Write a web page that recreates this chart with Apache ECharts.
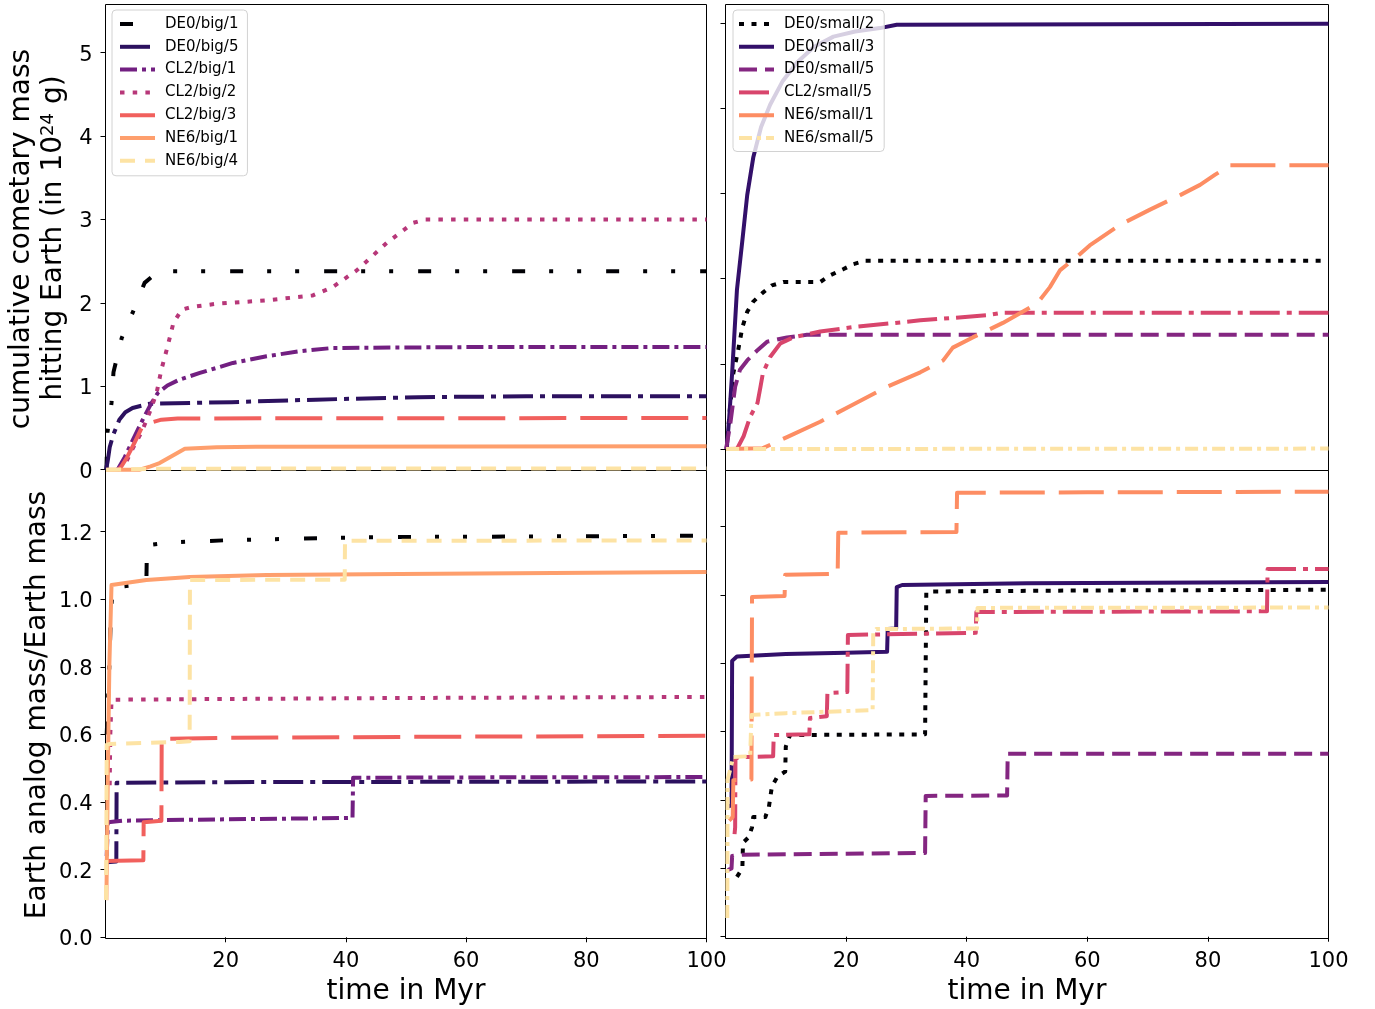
<!DOCTYPE html>
<html>
<head>
<meta charset="utf-8">
<script src="https://cdn.jsdelivr.net/npm/echarts@6/dist/echarts.min.js"></script>
<style>
  html, body { margin: 0; padding: 0; background: #fff; }
  #chart { width: 1375px; height: 1009px; }
</style>
</head>
<body>
<div id="chart"></div>
<script>
// ---- tick values ----
const xTicks = [20, 40, 60, 80, 100];
const massTicks = [0, 1, 2, 3, 4, 5];
const analogTicks = [0, 0.2, 0.4, 0.6, 0.8, 1.0, 1.2];

// ---- series names per panel ----
const bigRuns = ['DE0/big/1', 'DE0/big/5', 'CL2/big/1', 'CL2/big/2', 'CL2/big/3', 'NE6/big/1', 'NE6/big/4'];
const smallRuns = ['DE0/small/2', 'DE0/small/3', 'DE0/small/5', 'CL2/small/5', 'NE6/small/1', 'NE6/small/5'];

// ---- cumulative cometary mass hitting Earth (10^24 g), big runs: [Myr, value] ----
const cometBig_DE0_1 = [[0.15,0],[0.33,0.45],[1.0,0.8],[1.33,1.17],[2.7,1.58],[4.5,1.88],[6.5,2.24],[8.5,2.36],[11,2.38],[50,2.38],[100,2.38]];
const cometBig_DE0_5 = [[0.1,0],[0.4,0.12],[0.7,0.27],[1.3,0.42],[2.3,0.6],[3.3,0.69],[4.5,0.74],[7.3,0.79],[21,0.81],[35,0.84],[52,0.87],[70,0.88],[100,0.88]];
const cometBig_CL2_1 = [[2,0],[3.2,0.15],[4.7,0.38],[6.2,0.6],[7.5,0.78],[8.7,0.92],[10.3,1.01],[12.3,1.08],[15.7,1.16],[21.2,1.28],[26.8,1.36],[32.3,1.42],[37.8,1.46],[60,1.47],[100,1.47]];
const cometBig_CL2_2 = [[2,0],[3.5,0.1],[4.5,0.25],[6,0.45],[7.3,0.68],[8.5,0.92],[9.3,1.2],[10.3,1.47],[11.3,1.76],[12.7,1.92],[14.3,1.95],[18.5,1.99],[26.8,2.03],[34.5,2.09],[37.8,2.19],[41.8,2.39],[46.8,2.72],[51.2,2.96],[53.2,3.0],[100,3.0]];
const cometBig_CL2_3 = [[2.3,0],[3.6,0.15],[4.8,0.32],[6,0.5],[7.3,0.56],[9.3,0.6],[12,0.615],[100,0.62]];
const cometBig_NE6_1 = [[0.1,0],[5.7,0],[7.5,0.04],[9,0.08],[10.7,0.15],[13.2,0.25],[18.5,0.27],[25,0.276],[100,0.28]];
const cometBig_NE6_4 = [[0.1,0],[8,0.01],[30,0.015],[100,0.015]];

// ---- cumulative cometary mass, small runs ----
const cometSmall_DE0_2 = [[0.2,0],[0.7,0.45],[1.3,0.89],[2.1,1.16],[2.8,1.43],[3.6,1.61],[4.6,1.73],[6.1,1.83],[7.7,1.92],[9.6,1.96],[15.7,1.96],[17.4,2.04],[19.5,2.11],[21.2,2.17],[23.2,2.21],[100,2.21]];
const cometSmall_DE0_3 = [[0.2,0],[0.6,0.35],[1.1,0.89],[1.9,1.87],[2.8,2.45],[3.6,2.98],[4.6,3.42],[5.9,3.78],[7.4,4.04],[9.5,4.32],[11.9,4.54],[14.7,4.72],[17.9,4.84],[21.5,4.9],[25.6,4.94],[28.4,4.98],[100,4.99]];
const cometSmall_DE0_5 = [[0.1,0],[0.8,0.3],[1.6,0.73],[2.4,0.93],[3.6,1.04],[5.3,1.16],[6.9,1.26],[10.2,1.31],[13.5,1.34],[100,1.34]];
const cometSmall_CL2_5 = [[1.9,0],[3,0.15],[4.1,0.38],[5.3,0.54],[5.8,0.73],[6.2,0.89],[7.4,1.08],[9.1,1.24],[11.2,1.31],[15.7,1.38],[21.1,1.43],[32.3,1.51],[43.4,1.57],[46,1.6],[100,1.6]];
const cometSmall_NE6_1 = [[0.1,0],[6.2,0.01],[10.2,0.14],[15.7,0.32],[21.1,0.52],[26.8,0.73],[32.3,0.9],[36.1,1.04],[37.7,1.19],[41,1.31],[46,1.48],[51.7,1.71],[53.8,1.9],[55.5,2.1],[58,2.24],[60.4,2.39],[65.4,2.63],[70.4,2.81],[75.4,2.98],[78.7,3.1],[81.2,3.22],[83.7,3.33],[100,3.33]];
const cometSmall_NE6_5 = [[0.1,0],[100,0.005]];

// ---- Earth analog mass / Earth mass, big runs ----
const analogBig_DE0_1 = [[0.2,0.6],[0.4,0.69],[0.6,0.78],[0.9,0.96],[1.2,1.035],[6.4,1.045],[6.8,1.05],[6.9,1.16],[10.6,1.168],[20.6,1.175],[36,1.181],[46,1.184],[100,1.188]];
const analogBig_DE0_5 = [[0.2,0.222],[1.8,0.224],[1.85,0.457],[20,0.459],[60,0.46],[100,0.461]];
const analogBig_CL2_1 = [[0.2,0.24],[0.4,0.34],[3,0.345],[20,0.349],[41.1,0.353],[41.2,0.472],[60,0.473],[100,0.474]];
const analogBig_CL2_2 = [[0.7,0.45],[0.8,0.6],[1,0.7],[1.5,0.703],[20,0.705],[50,0.708],[100,0.711]];
const analogBig_CL2_3 = [[0.15,0.226],[6.3,0.228],[6.35,0.34],[9.3,0.345],[9.35,0.587],[20,0.59],[50,0.593],[100,0.596]];
const analogBig_NE6_1 = [[0.15,0.11],[0.4,0.5],[0.65,0.81],[1,1.042],[6.8,1.057],[14,1.066],[26.8,1.072],[49,1.075],[100,1.081]];
const analogBig_NE6_4 = [[0.1,0.11],[0.2,0.57],[0.7,0.572],[12.3,0.578],[14,0.58],[14.05,1.057],[39.8,1.058],[39.85,1.173],[100,1.174]];

// ---- Earth analog mass / Earth mass, small runs ----
const analogSmall_DE0_2 = [[1.9,0.175],[2.8,0.2],[2.9,0.275],[3.8,0.29],[4.4,0.32],[4.6,0.35],[6.6,0.35],[7.2,0.38],[7.7,0.44],[8.6,0.468],[9.9,0.483],[10,0.556],[10.7,0.59],[33.1,0.592],[33.3,1.008],[34,1.01],[60,1.013],[100,1.015]];
const analogSmall_DE0_3 = [[0.4,0.38],[1,0.385],[1.1,0.807],[1.9,0.82],[10,0.827],[20,0.831],[26.8,0.834],[26.9,0.9],[28.3,0.902],[28.4,1.023],[29.3,1.029],[50,1.034],[100,1.038]];
const analogSmall_DE0_5 = [[0.4,0.195],[1,0.2],[1.1,0.236],[2.8,0.24],[33.1,0.245],[33.2,0.412],[46.7,0.413],[46.8,0.535],[100,0.535]];
const analogSmall_CL2_5 = [[1.5,0.3],[1.6,0.32],[1.65,0.52],[2.1,0.525],[7.9,0.528],[8,0.59],[13.9,0.592],[14,0.64],[16.8,0.645],[16.9,0.713],[20.2,0.716],[20.3,0.883],[41.5,0.889],[41.6,0.95],[89.8,0.952],[89.9,1.076],[100,1.076]];
const analogSmall_NE6_1 = [[0.6,0.34],[1.2,0.35],[1.3,0.458],[4.3,0.46],[4.4,0.994],[9.8,0.997],[9.9,1.059],[18.6,1.062],[18.7,1.182],[38.3,1.184],[38.4,1.299],[60,1.3],[100,1.302]];
const analogSmall_NE6_5 = [[0.3,0.055],[0.35,0.459],[1.3,0.526],[4.1,0.528],[4.3,0.649],[10,0.654],[24.4,0.663],[24.5,0.889],[25,0.9],[41.7,0.902],[41.8,0.962],[100,0.963]];

const cometBig = [cometBig_DE0_1, cometBig_DE0_5, cometBig_CL2_1, cometBig_CL2_2, cometBig_CL2_3, cometBig_NE6_1, cometBig_NE6_4];
const cometSmall = [cometSmall_DE0_2, cometSmall_DE0_3, cometSmall_DE0_5, cometSmall_CL2_5, cometSmall_NE6_1, cometSmall_NE6_5];
const analogBig = [analogBig_DE0_1, analogBig_DE0_5, analogBig_CL2_1, analogBig_CL2_2, analogBig_CL2_3, analogBig_NE6_1, analogBig_NE6_4];
const analogSmall = [analogSmall_DE0_2, analogSmall_DE0_3, analogSmall_DE0_5, analogSmall_CL2_5, analogSmall_NE6_1, analogSmall_NE6_5];

// ---- line styles (colour + dash pattern in px) ----
const lineLook = {
  'DE0/big/1':   { color: '#000004', dash: [13, 24, 4, 24, 4, 25] },
  'DE0/big/5':   { color: '#2c115f', dash: [30, 7, 5, 7] },
  'CL2/big/1':   { color: '#721f81', dash: [17, 5, 4, 5] },
  'CL2/big/2':   { color: '#b73779', dash: [4.5, 8.2] },
  'CL2/big/3':   { color: '#f1605d', dash: [47, 14] },
  'NE6/big/1':   { color: '#fe9f6d', dash: 'solid' },
  'NE6/big/4':   { color: '#fde3a4', dash: [15, 10] },
  'DE0/small/2': { color: '#000004', dash: [5, 7.5] },
  'DE0/small/3': { color: '#33106a', dash: 'solid' },
  'DE0/small/5': { color: '#842681', dash: [18, 8] },
  'CL2/small/5': { color: '#d8456c', dash: [30, 7, 5, 7] },
  'NE6/small/1': { color: '#fd8d63', dash: [45, 14] },
  'NE6/small/5': { color: '#fde3a4', dash: [13, 5, 4, 5] }
};

const FONT = '"DejaVu Sans", sans-serif';

const grids = [
  { left: 105.5, top: 4.5,   width: 601, height: 466 },   // comet, big
  { left: 725.5, top: 4.5,   width: 603, height: 466 },   // comet, small
  { left: 105.5, top: 470.5, width: 601, height: 468 },   // analog, big
  { left: 725.5, top: 470.5, width: 603, height: 468 }    // analog, small
].map(g => Object.assign(g, { show: true, borderColor: '#000', borderWidth: 1, backgroundColor: 'transparent', containLabel: false }));

function xAxisFor(gi, labelled) {
  return {
    type: 'value', gridIndex: gi, min: 0, max: 100,
    axisLine: { show: false }, splitLine: { show: false },
    axisTick: { show: labelled, customValues: xTicks, length: 5, lineStyle: { color: '#000', width: 1 } },
    axisLabel: { show: labelled, customValues: xTicks, color: '#000', fontFamily: FONT, fontSize: 21, margin: 13 }
  };
}
function yAxisFor(gi, min, max, ticks, labelled, fmt) {
  return {
    type: 'value', gridIndex: gi, min: min, max: max,
    axisLine: { show: false }, splitLine: { show: false },
    axisTick: { show: true, customValues: ticks, length: 5, lineStyle: { color: '#000', width: 1 } },
    // tight line box anchored at its top: glyphs sit ~2.5px below the tick
    axisLabel: { show: labelled, customValues: ticks, color: '#000', fontFamily: FONT, fontSize: 21, margin: 13,
      verticalAlign: 'top', lineHeight: 5, formatter: fmt }
  };
}

const series = [];
function addPanel(names, datasets, gi) {
  names.forEach((name, i) => {
    const look = lineLook[name];
    series.push({
      type: 'line', name: name, xAxisIndex: gi, yAxisIndex: gi,
      data: datasets[i], symbol: 'none', showSymbol: false, smooth: false,
      lineStyle: { color: look.color, width: 4, type: look.dash, cap: 'butt', join: 'round' },
      itemStyle: { color: look.color },
      emphasis: { disabled: true }, animation: false
    });
  });
}
addPanel(bigRuns, cometBig, 0);
addPanel(smallRuns, cometSmall, 1);
addPanel(bigRuns, analogBig, 2);
addPanel(smallRuns, analogSmall, 3);

// legend keys: line sample only (the marker dot is hidden)
const legendBase = {
  orient: 'vertical', itemWidth: 35, itemHeight: 14, itemGap: 7.8,
  backgroundColor: 'rgba(255,255,255,0.8)', borderColor: '#d2d2d2', borderWidth: 1, borderRadius: 4,
  itemStyle: { opacity: 0, borderWidth: 0 },
  lineStyle: { width: 4, cap: 'butt' },
  textStyle: { fontFamily: FONT, fontSize: 15, color: '#000', lineHeight: 15, padding: [0, 0, 0, 5] },
  selectedMode: false
};

const option = {
  backgroundColor: '#fff',
  animation: false,
  grid: grids,
  xAxis: [xAxisFor(0, false), xAxisFor(1, false), xAxisFor(2, true), xAxisFor(3, true)],
  yAxis: [
    yAxisFor(0, -0.0096, 5.578, massTicks, true, v => String(v)),
    yAxisFor(1, -0.252, 5.217, massTicks, false),
    yAxisFor(2, -0.0036, 1.381, analogTicks, true, v => v.toFixed(1)),
    yAxisFor(3, -0.0053, 1.364, analogTicks, false)
  ],
  legend: [
    Object.assign({}, legendBase, { data: bigRuns, left: 112, top: 10, padding: [6.5, 9, 7.5, 6] }),
    Object.assign({}, legendBase, { data: smallRuns, left: 733, top: 10, padding: [6.5, 10, 6, 4] })
  ],
  graphic: [
    { type: 'text', x: 22, y: 239, rotation: Math.PI / 2,
      style: { text: 'cumulative cometary mass', font: '28px ' + FONT, fill: '#000', align: 'center', verticalAlign: 'middle' } },
    { type: 'text', x: 53.5, y: 238, rotation: Math.PI / 2,
      style: { text: 'hitting Earth (in 10{s|24} g)', font: '28px ' + FONT, fontSize: 28, fontFamily: FONT, lineHeight: 28, fill: '#000', align: 'center', verticalAlign: 'middle',
        rich: { s: { fontSize: 18, lineHeight: 18, fontFamily: FONT, verticalAlign: 'top', fill: '#000' } } } },
    { type: 'text', x: 38, y: 705, rotation: Math.PI / 2,
      style: { text: 'Earth analog mass/Earth mass', font: '28px ' + FONT, fill: '#000', align: 'center', verticalAlign: 'middle' } },
    { type: 'text', x: 406, y: 991.5,
      style: { text: 'time in Myr', font: '28px ' + FONT, fill: '#000', align: 'center', verticalAlign: 'middle' } },
    { type: 'text', x: 1027, y: 991.5,
      style: { text: 'time in Myr', font: '28px ' + FONT, fill: '#000', align: 'center', verticalAlign: 'middle' } }
  ],
  series: series
};

const chart = echarts.init(document.getElementById('chart'), null, { renderer: 'canvas' });
chart.setOption(option);
</script>
</body>
</html>
